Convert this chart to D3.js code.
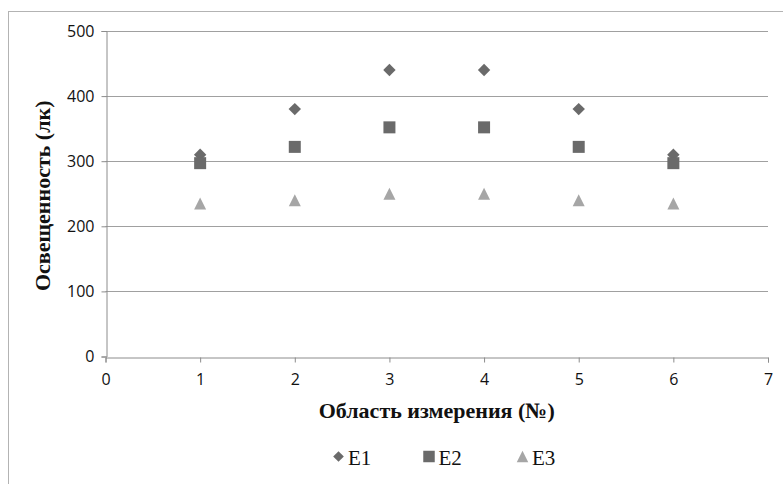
<!DOCTYPE html>
<html>
<head>
<meta charset="utf-8">
<script src="https://cdn.jsdelivr.net/npm/d3@7/dist/d3.min.js"></script>
</head>
<body style="margin:0;padding:0;background:#fff;">
<svg id="chart" width="783" height="484" style="display:block;"></svg>
<script>
// Measurement areas and illuminance readings (lx)
const areas = [1, 2, 3, 4, 5, 6];
const e1 = [310, 380, 440, 440, 380, 310];
const e2 = [297, 322, 352, 352, 322, 297];
const e3 = [235, 240, 250, 250, 240, 235];
const seriesNames = ["E1", "E2", "E3"];
const yTicks = [0, 100, 200, 300, 400, 500];
const xTicks = [0, 1, 2, 3, 4, 5, 6, 7];

(function () {
  const tickFont = "'Open Sans', 'Noto Sans', sans-serif";
  const serifFont = "'Liberation Serif', 'Times New Roman', 'DejaVu Serif', serif";

  // triangle marker centred on its bounding box; size = width squared
  const boxTriangle = {
    draw(ctx, size) {
      const w = Math.sqrt(size), h = w;
      ctx.moveTo(0, -h / 2);
      ctx.lineTo(w / 2, h / 2);
      ctx.lineTo(-w / 2, h / 2);
      ctx.closePath();
    }
  };

  const series = [
    { name: seriesNames[0], values: e1, shape: d3.symbolDiamond2, size: 98, legendSize: 72, color: "#6a6a6a" },
    { name: seriesNames[1], values: e2, shape: d3.symbolSquare, size: 144, legendSize: 132, color: "#6a6a6a" },
    { name: seriesNames[2], values: e3, shape: boxTriangle, size: 144, legendSize: 132, color: "#a6a6a6" }
  ];

  const svg = d3.select("#chart");
  const plotLeft = 105.5, plotRight = 768, plotTop = 31, plotBottom = 356.5;

  const x = d3.scaleLinear().domain([0, 7]).range([plotLeft, plotRight]);
  const y = d3.scaleLinear().domain([0, 500]).range([plotBottom, plotTop]);

  // chart frame
  svg.append("rect")
    .attr("x", 8.5).attr("y", 11.5)
    .attr("width", 800).attr("height", 500)
    .attr("fill", "none").attr("stroke", "#b3b3b3").attr("stroke-width", 1);

  // horizontal gridlines
  svg.append("g")
    .selectAll("line")
    .data(yTicks.filter(d => d > 0))
    .join("line")
    .attr("x1", plotLeft).attr("x2", plotRight)
    .attr("y1", d => Math.round(y(d)) + 0.5).attr("y2", d => Math.round(y(d)) + 0.5)
    .attr("stroke", "#a0a0a0");

  function styleAxis(g) {
    g.attr("font-family", tickFont).attr("font-size", 16);
    g.select(".domain").attr("stroke", "#8c8c8c");
    g.selectAll(".tick line").attr("stroke", "#8c8c8c");
    g.selectAll(".tick text")
      .style("font-family", tickFont)
      .style("font-size", "16px")
      .attr("fill", "#111");
  }

  // y axis
  svg.append("g")
    .attr("transform", `translate(${Math.round(plotLeft) + 0.5},0)`)
    .call(d3.axisLeft(y).tickValues(yTicks).tickSize(5).tickPadding(7).tickFormat(d3.format("d")))
    .call(styleAxis);

  // x axis
  svg.append("g")
    .attr("transform", `translate(0,${Math.round(plotBottom) + 0.5})`)
    .call(d3.axisBottom(x).tickValues(xTicks).tickSize(5).tickPadding(11).tickFormat(d3.format("d")))
    .call(styleAxis);

  // axis titles
  svg.append("text")
    .attr("transform", `translate(50,${(plotTop + plotBottom) / 2 + 2}) rotate(-90)`)
    .attr("text-anchor", "middle")
    .style("font-family", serifFont)
    .style("font-weight", "bold")
    .style("font-size", "22px")
    .attr("fill", "#111")
    .text("Освещенность (лк)");

  svg.append("text")
    .attr("x", (plotLeft + plotRight) / 2)
    .attr("y", 418)
    .attr("text-anchor", "middle")
    .style("font-family", serifFont)
    .style("font-weight", "bold")
    .style("font-size", "22px")
    .attr("fill", "#111")
    .text("Область измерения (№)");

  // markers
  series.forEach(s => {
    svg.append("g")
      .selectAll("path")
      .data(areas.map((a, i) => ({ a, v: s.values[i] })))
      .join("path")
      .attr("d", d3.symbol().type(s.shape).size(s.size))
      .attr("transform", d => `translate(${x(d.a)},${y(d.v)})`)
      .attr("fill", s.color);
  });

  // legend
  const legendX = [338.5, 429, 522.5];
  const legend = svg.append("g");
  series.forEach((s, i) => {
    legend.append("path")
      .attr("d", d3.symbol().type(s.shape).size(s.legendSize))
      .attr("transform", `translate(${legendX[i]},456.5)`)
      .attr("fill", s.color);
    legend.append("text")
      .attr("x", legendX[i] + 9.5)
      .attr("y", 464.5)
      .style("font-family", serifFont)
      .style("font-size", "21px")
      .attr("fill", "#111")
      .text(s.name);
  });
})();
</script>
</body>
</html>
